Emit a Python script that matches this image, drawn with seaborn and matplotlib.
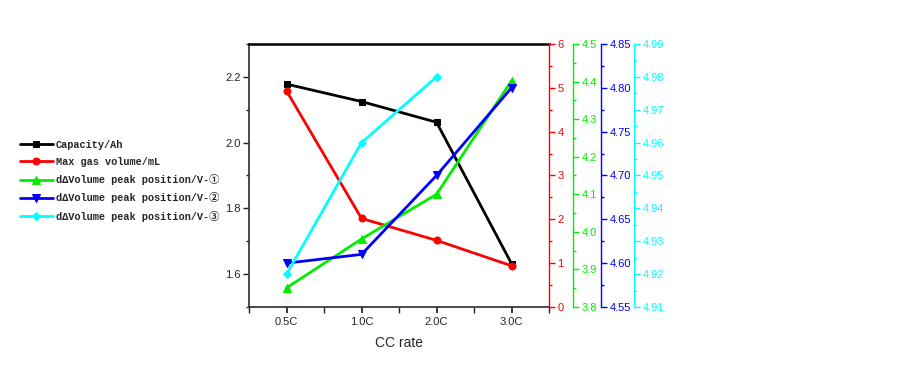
import numpy as np
import pandas as pd
import seaborn as sns
import matplotlib.pyplot as plt
from matplotlib.ticker import MultipleLocator

# data
rates = ['0.5C', '1.0C', '2.0C', '3.0C']
capacity = [2.178, 2.125, 2.062, 1.632]
gas_volume = [4.93, 2.02, 1.52, 0.94]
peak_1 = [3.851, 3.981, 4.100, 4.402]
peak_2 = [4.600, 4.610, 4.700, 4.800]
peak_3 = [4.920, 4.960, 4.980, np.nan]

labels = ['Capacity/Ah', 'Max gas volume/mL',
          'd\u0394Volume peak position/V-\u2460',
          'd\u0394Volume peak position/V-\u2461',
          'd\u0394Volume peak position/V-\u2462']

sns.set_theme(style='ticks')
plt.rcParams['font.family'] = ['Liberation Sans', 'DejaVu Sans']

df = pd.DataFrame({'pos': np.arange(len(rates)), 'cap': capacity, 'gas': gas_volume,
                   'p1': peak_1, 'p2': peak_2, 'p3': peak_3})

fig = plt.figure(figsize=(9, 3.68), dpi=100)
ax = fig.add_axes([0.2767, 0.1658, 0.3333, 0.7146])

# column, colour, marker, size, ylim, major, minor, format, spine position
series = [
    ('cap', 'black', 's', 5, (1.5, 2.3), 0.2, 0.1, '%.1f', None),
    ('gas', 'red', 'o', 5, (0, 6), 1, 0.5, '%d', 1.0),
    ('p1', '#00ee00', '^', 6, (3.8, 4.5), 0.1, 0.05, '%.1f', 1.08),
    ('p2', 'blue', 'v', 6, (4.55, 4.85), 0.05, 0.025, '%.2f', 1.1733),
    ('p3', 'cyan', 'D', 4.5, (4.91, 4.99), 0.01, 0.005, '%.2f', 1.2833),
]

handles = []
for col, color, marker, ms, lim, major, minor, fmt, pos in series:
    if pos is None:
        a = ax
    else:
        a = ax.twinx()
        a.spines['right'].set_position(('axes', pos))
        a.spines['right'].set_color(color)
        a.spines['right'].set_linewidth(1.0)
        for s in ['left', 'top', 'bottom']:
            a.spines[s].set_visible(False)
    sub = df.dropna(subset=[col])
    sns.lineplot(data=sub, x='pos', y=col, ax=a, color=color, marker=marker,
                 markersize=ms, markeredgecolor=color, linewidth=2, legend=False)
    handles.append(a.lines[-1])
    a.set_ylim(*lim)
    a.set_ylabel('')
    a.set_xlabel('')
    a.yaxis.set_major_locator(MultipleLocator(major))
    a.yaxis.set_minor_locator(MultipleLocator(minor))
    a.yaxis.set_major_formatter(plt.FormatStrFormatter(fmt))
    a.tick_params(axis='y', which='major', direction='out', length=4, width=1,
                  colors=color if pos is not None else '#222222', labelsize=8, pad=2)
    a.tick_params(axis='y', which='minor', direction='out', length=2, width=1,
                  color=color if pos is not None else '#222222')

ax.set_xlim(-0.5, 3.5)
ax.set_xticks(np.arange(len(rates)))
ax.set_xticklabels(rates)
ax.xaxis.set_minor_locator(MultipleLocator(0.5))
ax.tick_params(axis='x', which='major', direction='out', length=4, labelsize=8, colors='#222222')
ax.tick_params(axis='x', which='minor', direction='out', length=4, color='#222222')
ax.set_xlabel('CC rate', fontsize=10, labelpad=6)
ax.spines['top'].set_visible(True)
ax.spines['top'].set_linewidth(1.8)
ax.spines['top'].set_color('black')
ax.spines['right'].set_visible(False)
ax.spines['left'].set_color('#333333')
ax.spines['bottom'].set_color('#333333')
for a in fig.axes[1:]:
    a.spines['right'].set_visible(True)

fig.legend(handles, labels, loc='upper left', bbox_to_anchor=(0.012, 0.645),
           frameon=False, handlelength=3.2, labelspacing=0.7, handletextpad=0.3,
           prop={'family': ['Liberation Mono', 'Noto Sans CJK SC', 'DejaVu Sans'],
                 'weight': 'bold', 'size': 7.4})

fig.savefig('out.png', dpi=100)
